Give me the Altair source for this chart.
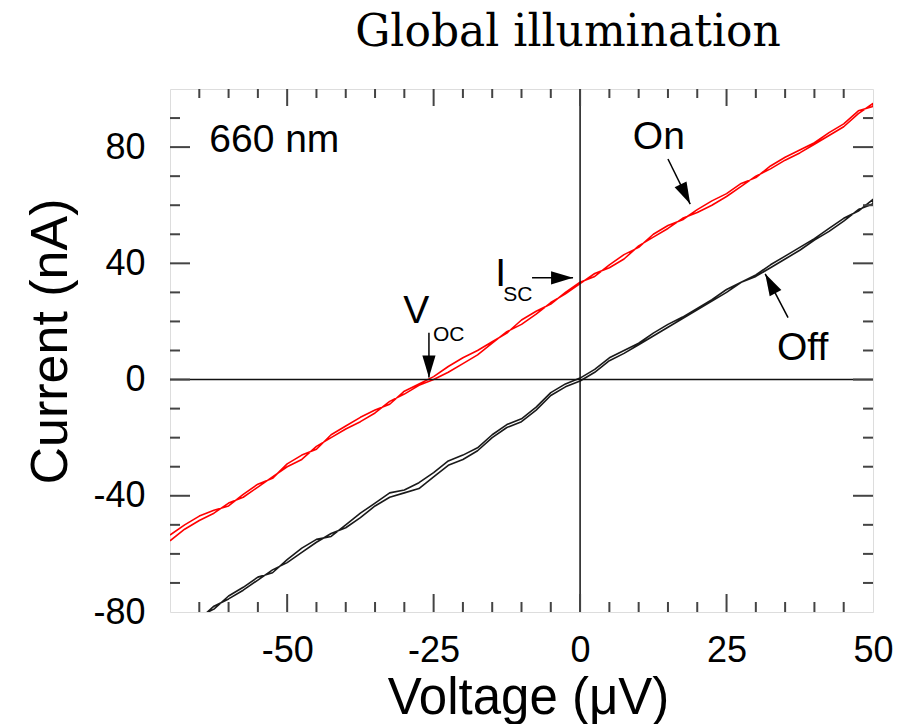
import altair as alt
import pandas as pd

# ---------------- data ----------------
VOLT_ON = [-70, -67.5, -65, -62.5, -60, -57.5, -55, -52.5, -50, -47.5, -45, -42.5,
           -40, -37.5, -35, -32.5, -30, -27.5, -25, -22.5, -20, -17.5, -15, -12.5,
           -10, -7.5, -5, -2.5, 0, 2.5, 5, 7.5, 10, 12.5, 15, 17.5, 20, 22.5, 25,
           27.5, 30, 32.5, 35, 37.5, 40, 42.5, 45, 47.5, 50]
ON_FWD = [-55.5, -51.5, -48.5, -46.0, -42.5, -40.5, -37.0, -33.5, -30.0, -27.5, -23.0, -20.0,
          -17.0, -14.5, -11.5, -7.5, -5.0, -2.0, 0.0, 2.5, 5.5, 8.5, 12.5, 16.5,
          19.0, 22.5, 26.5, 29.5, 33.0, 36.5, 38.5, 41.5, 46.0, 49.0, 52.0, 55.5, 57.5, 60.0, 63.0,
          66.5, 70.0, 72.5, 75.5, 78.0, 81.0, 84.0, 87.0, 91.5, 95.0]
ON_BWD = [-53.5, -50.0, -47.0, -45.0, -43.5, -39.5, -36.0, -34.0, -29.0, -26.0, -24.0, -19.0,
          -16.0, -13.0, -10.5, -8.5, -4.0, -1.5, 1.0, 4.5, 7.5, 10.0, 13.0, 16.0,
          20.5, 23.5, 26.0, 30.0, 33.5, 35.5, 39.5, 43.0, 45.5, 50.0, 53.0, 55.0, 58.5, 61.5, 64.0,
          67.5, 69.5, 73.5, 76.5, 79.0, 81.5, 85.0, 88.0, 92.5, 94.0]

VOLT_OFF = [-65, -62.5, -60, -57.5, -55, -52.5, -50, -47.5, -45, -42.5,
            -40, -37.5, -35, -32.5, -30, -27.5, -25, -22.5, -20, -17.5, -15, -12.5,
            -10, -7.5, -5, -2.5, 0, 2.5, 5, 7.5, 10, 12.5, 15, 17.5, 20, 22.5, 25,
            27.5, 30, 32.5, 35, 37.5, 40, 42.5, 45, 47.5, 50]
OFF_FWD = [-82.5, -78.0, -75.5, -72.5, -69.0, -65.5, -63.0, -59.5, -56.0, -53.0,
           -51.0, -47.5, -43.5, -40.5, -39.0, -37.5, -33.5, -29.5, -27.5, -24.5, -20.0, -16.5,
           -14.5, -10.5, -5.5, -2.5, -0.5, 2.5, 6.5, 9.0, 12.0, 15.0, 18.0, 21.0, 24.0, 27.0, 30.0,
           33.5, 35.5, 38.5, 41.5, 44.5, 48.0, 51.0, 54.5, 58.5, 60.5]
OFF_BWD = [-81.5, -79.0, -74.5, -71.5, -68.0, -66.5, -62.0, -58.0, -55.0, -54.0,
           -50.0, -46.0, -42.5, -39.0, -38.0, -35.5, -32.0, -28.0, -26.0, -23.5, -19.0, -15.5,
           -13.5, -9.5, -4.5, -1.5, 0.5, 3.5, 7.5, 10.0, 12.5, 16.0, 19.0, 21.5, 24.5, 27.5, 31.0,
           33.5, 36.0, 39.5, 42.5, 45.5, 48.5, 52.0, 55.5, 58.0, 62.0]

X_DOMAIN = [-70, 50]
Y_DOMAIN = [-80, 100]
X_LABELS = [-50, -25, 0, 25, 50]
Y_LABELS = [-80, -40, 0, 40, 80]
X_MAJOR = [-50, -25, 0, 25]
X_MINOR = [-65, -60, -55, -45, -40, -35, -30, -20, -15, -10, -5, 5, 10, 15, 20, 30, 35, 40, 45]
Y_MAJOR = [-40, 0, 40, 80]
Y_MINOR = [-70, -60, -50, -30, -20, -10, 10, 20, 30, 50, 60, 70, 90]

TITLE = "Global illumination"
X_TITLE = "Voltage (μV)"
Y_TITLE = "Current (nA)"

# annotation texts (positions in data units)
LABEL_TEXT = ["660 nm", "On", "Off", "I", "V"]
LABEL_V = [-63.3, 9.0, 33.6, -14.5, -30.2]
LABEL_I = [78.3, 79.3, 6.9, 32.3, 19.6]
SUB_TEXT = ["SC", "OC"]
SUB_V = [-13.1, -25.1]
SUB_I = [27.1, 13.4]
# arrows: tail -> tip
ARROW_V = [15.0, 35.5, -8.2, -25.8]
ARROW_I = [75.9, 21.3, 35.0, 16.1]
ARROW_V2 = [18.8, 31.6, -1.2, -25.8]
ARROW_I2 = [60.4, 36.4, 35.0, 0.7]
ARROW_ANGLE = [154, 332, 90, 180]

W, H = 703, 523
FRAME = "#444444"
SANS = "Liberation Sans"

# ---------------- tables ----------------
rows = []
for name, volts, fwd, bwd in [("On", VOLT_ON, ON_FWD, ON_BWD), ("Off", VOLT_OFF, OFF_FWD, OFF_BWD)]:
    k = 0
    for v, i in zip(volts, fwd):
        rows.append({"series": name, "V": v, "I": i, "k": k})
        k += 1
    for v, i in zip(reversed(volts), reversed(bwd)):
        rows.append({"series": name, "V": v, "I": i, "k": k})
        k += 1
curves = pd.DataFrame(rows)

xs = alt.Scale(domain=X_DOMAIN, nice=False, zero=False)
ys = alt.Scale(domain=Y_DOMAIN, nice=False, zero=False)

x_axis = alt.Axis(values=X_LABELS, ticks=False, domain=False, grid=False,
                  labelFont=SANS, labelFontSize=36, labelColor="black", labelPadding=21,
                  labelFlush=False, labelOverlap=False, labelExpr="'' + datum.value",
                  title=X_TITLE, titleFont=SANS, titleFontSize=51, titleFontWeight="normal",
                  titleColor="black", titleX=358, titleY=101, titleAlign="center",
                  titleBaseline="alphabetic")
y_axis = alt.Axis(values=Y_LABELS, ticks=False, domain=False, grid=False,
                  labelFont=SANS, labelFontSize=36, labelColor="black", labelPadding=25,
                  labelFlush=False, labelOverlap=False, labelExpr="'' + datum.value",
                  title=Y_TITLE, titleFont=SANS, titleFontSize=52, titleFontWeight="normal",
                  titleColor="black", titleX=-104, titleY=252, titleAlign="center",
                  titleBaseline="alphabetic", titleAngle=270)

lines = alt.Chart(curves).mark_line(strokeWidth=1.6, clip=True, strokeJoin="round").encode(
    x=alt.X("V:Q", scale=xs, axis=x_axis),
    y=alt.Y("I:Q", scale=ys, axis=y_axis),
    color=alt.Color("series:N", scale=alt.Scale(domain=["On", "Off"], range=["#ff0000", "#1a1a1a"]),
                    legend=None),
    detail="series:N",
    order="k:Q",
)

zero_h = alt.Chart(pd.DataFrame({"I": [0]})).mark_rule(color="#111111", strokeWidth=1.5).encode(
    y=alt.Y("I:Q"))
zero_v = alt.Chart(pd.DataFrame({"V": [0]})).mark_rule(color="#111111", strokeWidth=1.5).encode(
    x=alt.X("V:Q"))

xmaj = pd.DataFrame({"V": X_MAJOR})
xmin = pd.DataFrame({"V": X_MINOR})
ymaj = pd.DataFrame({"I": Y_MAJOR})
ymin = pd.DataFrame({"I": Y_MINOR})


def xtick(df, y0, y1):
    return alt.Chart(df).mark_rule(color=FRAME, strokeWidth=2).encode(
        x=alt.X("V:Q"), y=alt.value(y0), y2=alt.value(y1))


def ytick(df, x0, x1):
    return alt.Chart(df).mark_rule(color=FRAME, strokeWidth=2).encode(
        y=alt.Y("I:Q"), x=alt.value(x0), x2=alt.value(x1))


ticks = [
    xtick(xmaj, H, H - 18), xtick(xmin, H, H - 10),
    xtick(xmaj, 0, 17), xtick(xmin, 0, 9),
    ytick(ymaj, 0, 20), ytick(ymin, 0, 10),
    ytick(ymaj, W, W - 20), ytick(ymin, W, W - 10),
]

labels = alt.Chart(pd.DataFrame({"V": LABEL_V, "I": LABEL_I, "t": LABEL_TEXT})).mark_text(
    font=SANS, fontSize=39, align="left", baseline="alphabetic", color="black").encode(
    x=alt.X("V:Q"), y=alt.Y("I:Q"), text="t:N")
subs = alt.Chart(pd.DataFrame({"V": SUB_V, "I": SUB_I, "t": SUB_TEXT})).mark_text(
    font=SANS, fontSize=21, align="left", baseline="alphabetic", color="black").encode(
    x=alt.X("V:Q"), y=alt.Y("I:Q"), text="t:N")

arrows_df = pd.DataFrame({"V": ARROW_V, "I": ARROW_I, "V2": ARROW_V2, "I2": ARROW_I2,
                          "ang": ARROW_ANGLE})
shafts = alt.Chart(arrows_df).mark_rule(color="black", strokeWidth=1.5).encode(
    x=alt.X("V:Q"), y=alt.Y("I:Q"), x2="V2:Q", y2="I2:Q")
heads = alt.Chart(arrows_df).mark_point(
    shape="M0,0L-0.3,1L0.3,1Z", filled=True, size=1936, color="black", opacity=1,
    strokeWidth=0).encode(
    x=alt.X("V2:Q"), y=alt.Y("I2:Q"),
    angle=alt.Angle("ang:Q", scale=None))

title_mark = alt.Chart(pd.DataFrame({"t": [TITLE]})).mark_text(
    font="DejaVu Serif", fontSize=44, fontWeight="normal", align="center",
    baseline="alphabetic", color="black").encode(
    x=alt.value(398), y=alt.value(-43), text="t:N")

chart = alt.layer(lines, zero_h, zero_v, *ticks, labels, subs, shafts, heads, title_mark).properties(
    width=W, height=H,
    autosize=alt.AutoSizeParams(type="none"),
    padding={"left": 170, "top": 89, "right": 32, "bottom": 112},
).configure_view(stroke=FRAME, strokeWidth=2).configure(background="white")

chart.save("out.html", embed_options={"renderer": "svg", "actions": False})
